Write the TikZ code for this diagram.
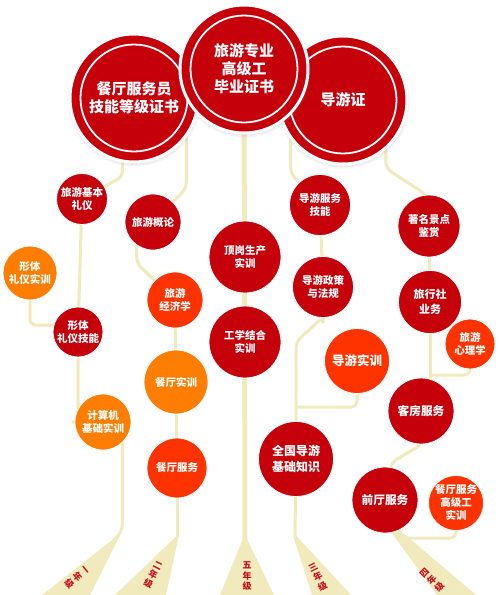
\documentclass[tikz,border=0pt]{standalone}
\usepackage{fontspec}
\setmainfont{Noto Sans CJK SC}
\usetikzlibrary{calc,shadows,backgrounds}
\definecolor{cred}{RGB}{197,0,11}
\definecolor{corange}{RGB}{255,125,0}
\definecolor{cror}{RGB}{255,51,0}
\definecolor{cline}{RGB}{241,234,188}
\definecolor{ctext}{RGB}{200,16,28}
\begin{document}
\begin{tikzpicture}[x=1pt,y=-1pt,
  conn/.style={draw=cline, line width=3pt, rounded corners=6pt},
  trunk/.style={draw=cline, line width=5pt},
  wedge/.style={fill=cline},
  bigc/.style={circle, fill=cred, draw=white, line width=3pt, minimum size=128pt, inner sep=0pt,
    text=white, align=center, font=\bfseries\fontsize{15}{18}\selectfont,
    circular drop shadow={shadow xshift=0pt, shadow yshift=-1.5pt, shadow scale=1.05, opacity=0.45},
    path picture={\draw[white, line width=1.8pt] (path picture bounding box.center) circle[radius=53.5pt];}},
  sn/.style={circle, draw=white, line width=0.8pt, inner sep=0pt, text=white, align=center,
    font=\bfseries\fontsize{10.5}{13}\selectfont},
  rd/.style={sn, fill=cred},
  og/.style={sn, fill=corange},
  ro/.style={sn, fill=cror},
  lbl/.style={text=ctext, font=\bfseries\fontsize{9}{10.5}\selectfont, align=center, inner sep=0pt}
]
\useasboundingbox (0,0) rectangle (500,595);

% big certificate circles
\node[bigc] (Lc) at (134,98) {餐厅服务员\\技能等级证书};
\node[bigc] (Rc) at (343,100) {导游证};
\node[bigc] (Cc) at (244,69) {旅游专业\\高级工\\毕业证书};

% first year
\node[rd, minimum size=51pt] (n1a) at (82,199) {旅游基本\\礼仪};
\node[og, minimum size=54pt] (n1b) at (30,273) {形体\\礼仪实训};
\node[rd, minimum size=50pt] (n1c) at (78,332) {形体\\礼仪技能};
\node[og, minimum size=56pt] (n1d) at (103,422) {计算机\\基础实训};
% second year
\node[rd, minimum size=56pt] (n2a) at (153,222) {旅游概论};
\node[ro, minimum size=56pt] (n2b) at (175,300) {旅游\\经济学};
\node[og, minimum size=64pt] (n2c) at (176,382) {餐厅实训};
\node[ro, minimum size=60pt] (n2d) at (177,468) {餐厅服务};
% fifth year
\node[rd, minimum size=72pt] (n5a) at (245,257) {顶岗生产\\实训};
\node[rd, minimum size=72pt] (n5b) at (245,342) {工学结合\\实训};
% third year
\node[rd, minimum size=61pt] (n3a) at (320,205) {导游服务\\技能};
\node[rd, minimum size=61pt] (n3b) at (323,287) {导游政策\\与法规};
\node[ro, minimum size=65pt, font=\bfseries\fontsize{12.5}{15}\selectfont] (n3c) at (357,361) {导游实训};
\node[rd, minimum size=75pt, font=\bfseries\fontsize{12}{16.5}\selectfont] (n3d) at (296,459) {全国导游\\基础知识};
% fourth year
\node[rd, minimum size=62pt] (n4a) at (429,226) {著名景点\\鉴赏};
\node[rd, minimum size=63pt, font=\bfseries\fontsize{11}{15}\selectfont] (n4b) at (430,302) {旅行社\\业务};
\node[ro, minimum size=50pt] (n4c) at (470,344) {旅游\\心理学};
\node[rd, minimum size=66pt, font=\bfseries\fontsize{11.7}{14}\selectfont] (n4d) at (421,411) {客房服务};
\node[rd, minimum size=66pt, font=\bfseries\fontsize{11.7}{14}\selectfont] (n4e) at (385,500) {前厅服务};
\node[ro, minimum size=48pt] (n4f) at (456,503) {餐厅服务\\高级工\\实训};

% wedge apexes
\coordinate (w1) at (113,541);
\coordinate (w2) at (177,537);
\coordinate (w5) at (245,540);
\coordinate (w3) at (295,537);
\coordinate (w4) at (392,532);

\begin{scope}[on background layer]
  \fill[white] (0,0) rectangle (500,595);
  % wedges
  \fill[wedge] (111,541) -- (42,595) -- (90,595) -- (121,533) -- cycle;
  \fill[wedge] (175.5,537) -- (115,595) -- (166,595) -- (179,535) -- cycle;
  \fill[wedge] (242.5,540) -- (220,595) -- (274,595) -- (247.5,540) -- cycle;
  \fill[wedge] (293.5,537) -- (312,595) -- (351,595) -- (296.5,536) -- cycle;
  \fill[wedge] (388,528) -- (437,595) -- (476,595) -- (396,527) -- cycle;
  % first year
  \draw[conn] (Lc.260) -- ++(0,14) -- (n1a);
  \draw[conn] (n1a) -- (n1c);
  \draw[conn] (n1b) |- ($(n1c)+(0,-7)$);
  \draw[conn] (n1c) |- (n1d);
  \draw[conn] (n1d.-47) -- ++(0,88) -- (w1);
  % second year
  \draw[conn] (Lc.-37) -- ++(0,51) -- (n2a);
  \draw[conn] (n2a.235) -- ++(0,18) -- (n2b);
  \draw[conn] (n2b) -- (n2c);
  \draw[conn] (n2c) -- (n2d);
  \draw[conn] (n2d) -- (w2);
  % fifth year
  \draw[trunk] (Cc) -- (w5);
  % third year
  \draw[conn] (Rc.217) -- ++(0,34) -- (n3a);
  \draw[conn] (n3a) -- (n3b);
  \draw[conn] (n3b) -- ++(0,30) -- ++(-27,25) -- (n3d);
  \draw[conn] (n3c) |- ($(n3d)+(0,-52)$);
  \draw[conn] (n3d) -- (w3);
  % fourth year
  \draw[conn] (Rc.-49) -- ++(0,19) -- ++(40,26) -- (n4a);
  \draw[conn] (n4a) -- (n4b);
  \draw[conn] (n4b) -- (n4b |- n4d);
  \draw[conn] (n4c) |- ($(n4b)+(0,73)$);
  \draw[conn] (n4d) -- ++(0,34) -- ++(-29,17) -- (n4e.80);
  \draw[conn] (n4f) |- ($(n4e)+(11,38)$);
\end{scope}

% year labels
\node[lbl, rotate=-50] (t1) at (76,578) {一\\年\\级};
\node[lbl, rotate=-27] (t2) at (153,575) {二\\年\\级};
\node[lbl] (t5) at (247,576) {五\\年\\级};
\node[lbl, rotate=27] (t3) at (318,577) {三\\年\\级};
\node[lbl, rotate=46] (t4) at (432,580) {四\\年\\级};
\end{tikzpicture}
\end{document}
